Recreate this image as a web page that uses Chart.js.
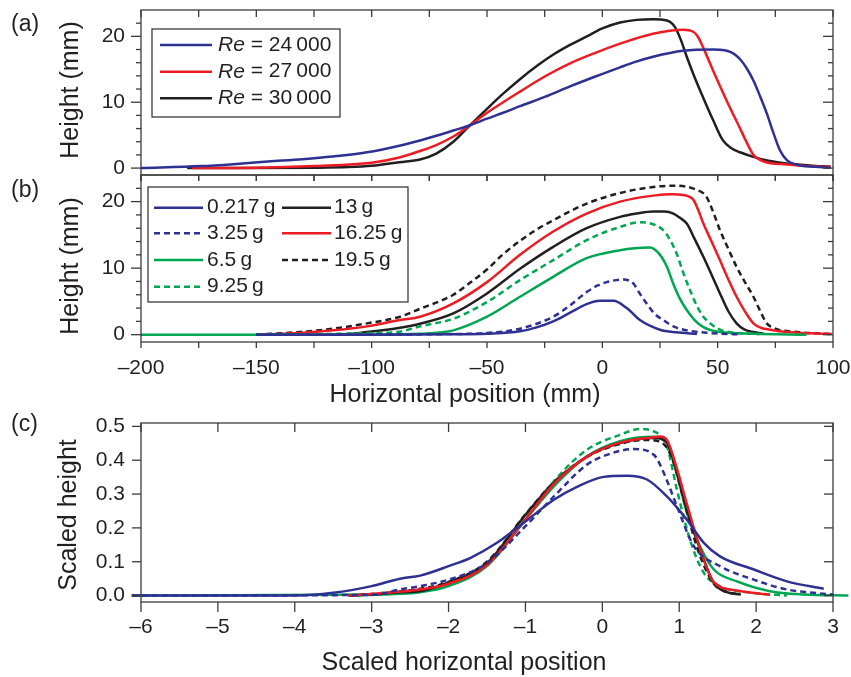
<!DOCTYPE html>
<html lang="en">
<head>
  <meta charset="UTF-8" />
  <title>Height profiles</title>
  <script src="https://cdn.jsdelivr.net/npm/chart.js"></script>
  <style>
    body { margin: 0; background: #fff; }
    .wrap { position: relative; width: 851px; height: 677px; }
    canvas { position: absolute; left: 0; }
  </style>
</head>
<body>
  <div class="wrap">
    <canvas id="chartA" width="851" height="200" style="top:0"></canvas>
    <canvas id="chartB" width="851" height="240" style="top:170px"></canvas>
    <canvas id="chartC" width="851" height="267" style="top:410px"></canvas>
  </div>

  <script>
    // ---- panel (a): Reynolds number series (x in mm, height in mm)
    const reX24 = [-200,-174,-160,-145,-130,-117,-102,-88,-79,-72,-64.6,-57.4,-50,-43,-35.7,-25,-14,-3,7.7,15,22,35,48,53,55.7,58,60,62.5,65.5,68.5,71.3,74,77,80,85,92,99];
    const reY24 = [0,0.3,0.6,1.0,1.35,1.75,2.4,3.4,4.2,4.9,5.7,6.5,7.5,8.4,9.4,10.8,12.4,13.9,15.3,16.2,16.9,17.8,18.0,17.9,17.6,17.1,16.4,15.2,13.3,10.8,8.3,5.5,2.7,1.2,0.45,0.2,0.05];
    const reX27 = [-178,-150,-125,-100,-88,-79,-72,-64.6,-57.4,-50,-43,-35.7,-25,-14,-3,7.7,22,35,39.4,41.5,43.6,48,53.8,60,63,65.5,70,80,90,99];
    const reY27 = [0,0.05,0.3,0.8,1.6,2.6,3.5,4.8,6.5,8.4,10.0,11.6,13.9,15.9,17.5,18.9,20.4,21.0,20.7,19.9,18.4,14.8,10.3,5.8,3.6,2.0,1.0,0.55,0.3,0.15];
    const reX30 = [-180,-150,-125,-110,-100,-88,-79,-72,-64.6,-57.4,-50,-43,-35.7,-28,-21.4,-14,-6.7,0,7.7,14.9,22,28,31.5,34,36.6,40,43.6,48,52.3,56,59.7,65.5,72,80,90,99];
    const reY30 = [0,0,0.05,0.15,0.35,0.9,1.3,2.2,4.0,6.5,9.0,11.3,13.5,15.6,17.2,18.7,20.0,21.2,22.1,22.5,22.6,22.4,21.4,19.5,16.9,13.8,10.8,7.3,4.2,3.0,2.4,1.7,1.1,0.7,0.4,0.2];
    const reLabels = ['24\u2009000', '27\u2009000', '30\u2009000'];

    // ---- panel (b): mass series (x in mm, height in mm)
    const bX0217 = [-150,-100,-65,-50,-35.7,-28.5,-21.3,-14,-6.8,-1,4.8,10.6,16.3,25,32,41];
    const bY0217 = [0,0,0.05,0.15,0.5,1.1,2.0,3.3,4.6,5.1,5.1,4.0,2.2,0.75,0.35,0.12];
    const bX325 = [-150,-100,-65,-50,-35.7,-21.3,-14,-6.8,-2,1.9,6,9.1,13.4,16,19.2,22.5,26.4,31,36.6,45,51,59.7];
    const bY325 = [0,0.02,0.1,0.25,0.9,2.7,4.4,6.4,7.4,7.9,8.2,8.3,7.7,6.3,4.7,3.2,2.2,1.2,0.65,0.3,0.15,0.05];
    const bX65 = [-200,-150,-100,-79,-64.6,-50,-35.7,-21.3,-6.8,7.7,14,20.7,25,28,30.7,33.5,36.6,40,43.8,51,65.5,88.5];
    const bY65 = [0,0,0.02,0.15,0.65,2.7,5.7,8.7,11.5,12.7,13.0,13.1,12.0,10.2,7.7,5.5,3.7,2.2,1.15,0.4,0.15,0];
    const bX925 = [-150,-120,-100,-89,-79,-64.6,-50,-35.7,-21.3,-6.8,7.7,16.5,22.1,26.4,29.3,32.2,35,38,40.9,43.8,47.5,51,58.2,68];
    const bY925 = [0,0.1,0.25,0.4,1.25,2.4,4.9,8.2,11.2,14.2,16.2,16.9,16.6,15.7,14.3,12.2,9.4,6.7,4.4,2.7,1.5,0.75,0.25,0.1];
    const bX13 = [-150,-116.7,-102,-87.7,-79,-64.6,-50,-35.7,-21.3,-6.8,7.7,15,22.1,27,30.8,33.5,36.6,40,43.8,47.5,51,54.5,58.2,61.5,65.5,70];
    const bY13 = [0,0,0.4,1.05,1.65,3.2,6.2,9.9,13.2,16.0,17.7,18.2,18.5,18.5,18.2,17.6,16.7,14.4,11.7,8.9,6.2,3.6,1.7,0.8,0.4,0.15];
    const bX1625 = [-150,-131,-116.7,-102,-87.7,-79,-64.6,-50,-35.7,-21.3,-6.8,7.7,22.1,30,35.1,39.4,41.5,43.8,47.5,51,54.5,58.2,62,65.5,69,72.7,80,90,99.5];
    const bY1625 = [0,0.25,0.65,1.25,2.2,2.7,4.7,7.9,12.0,15.5,18.2,20.0,20.9,21.1,21.0,20.3,18.8,16.7,13.9,11.2,8.4,5.7,3.4,1.7,1.0,0.75,0.4,0.2,0.1];
    const bX195 = [-150,-131,-116.7,-102,-87.7,-79,-64.6,-57.4,-50,-43,-35.7,-28.5,-21.3,-6.8,7.7,22.1,32,40.6,45,48,51,54.5,58.2,62,65.5,68.5,71.3,76,80,90,99.5];
    const bY195 = [0,0.4,0.9,1.7,2.7,3.9,6.0,7.8,9.8,12.1,14.1,15.8,17.2,19.7,21.3,22.2,22.4,21.8,20.8,18.5,15.7,13.0,10.2,7.8,5.7,3.5,1.7,0.8,0.55,0.25,0.1];
    const massLabels = ['0.217\u2009g', '3.25\u2009g', '6.5\u2009g', '9.25\u2009g', '13\u2009g', '16.25\u2009g', '19.5\u2009g'];

    // ---- panel (c): scaled profiles
    const cX0217 = [-6.12,-4,-3.5,-3,-2.63,-2.37,-2,-1.72,-1.37,-1,-0.63,-0.33,0,0.32,0.58,0.84,1.1,1.32,1.53,1.97,2.4,2.88];
    const cY0217 = [0,0,0.008,0.028,0.05,0.059,0.087,0.111,0.156,0.219,0.283,0.321,0.35,0.354,0.343,0.293,0.224,0.156,0.116,0.077,0.042,0.02];
    const cX325 = [-6.12,-3,-2.63,-2.37,-2,-1.5,-1,-0.63,-0.2,0.06,0.41,0.67,0.8,0.97,1.19,1.53,1.97,2.4,3.0];
    const cY325 = [0,0.002,0.018,0.028,0.047,0.096,0.205,0.293,0.387,0.416,0.433,0.416,0.362,0.264,0.146,0.087,0.047,0.018,0.003];
    const cX65 = [-6.12,-3,-2.37,-2,-1.5,-1,-0.63,-0.2,0.23,0.67,0.84,0.97,1.1,1.27,1.45,1.75,2.18,2.62,3.2];
    const cY65 = [0,0.003,0.01,0.028,0.087,0.224,0.323,0.411,0.456,0.469,0.456,0.362,0.244,0.146,0.077,0.042,0.013,0.003,0];
    const cX925 = [-3.2,-2.37,-2,-1.5,-1,-0.63,-0.2,0.23,0.49,0.67,0.84,0.97,1.14,1.32,1.53,1.97,2.4];
    const cY925 = [0,0.013,0.032,0.092,0.229,0.338,0.431,0.475,0.492,0.485,0.441,0.313,0.165,0.067,0.028,0.008,0];
    const cX13 = [-3.3,-3,-2.63,-2.37,-2,-1.5,-1,-0.63,-0.2,0.23,0.67,0.84,0.97,1.1,1.32,1.45,1.62,1.8];
    const cY13 = [0,0.003,0.01,0.013,0.039,0.096,0.239,0.333,0.411,0.451,0.466,0.451,0.362,0.254,0.106,0.037,0.01,0.003];
    const cX1625 = [-3.3,-3,-2.37,-2,-1.5,-1,-0.63,-0.2,0.23,0.67,0.75,0.84,0.97,1.1,1.3,1.45,1.75,2.18];
    const cY1625 = [0,0.005,0.018,0.035,0.09,0.225,0.33,0.41,0.452,0.468,0.47,0.46,0.375,0.27,0.12,0.04,0.015,0.002];
    const cX195 = [-3.3,-3,-2.37,-2,-1.5,-1,-0.63,-0.2,0.23,0.55,0.75,0.9,1.05,1.25,1.45,1.6,1.8];
    const cY195 = [0,0.005,0.02,0.04,0.1,0.24,0.335,0.41,0.448,0.46,0.455,0.41,0.29,0.13,0.035,0.012,0.003];

    // ---- ticks
    const mmTicks = [-200,-175,-150,-125,-100,-75,-50,-25,0,25,50,75,100];
    const mmLabels = [-200,-150,-100,-50,0,50,100];
    const hLabels = [0,10,20];
    const hMinor = [2,4,6,8,12,14,16,18,22];
    const sxLabels = [-6,-5,-4,-3,-2,-1,0,1,2,3];
    const syLabels = [0,0.1,0.2,0.3,0.4,0.5];

    const BLUE = '#2e3192', RED = '#ed1c24', BLACK = '#231f20', GREEN = '#00a651';
    const INK = '#231f20', FRAME = '#3b3b3b';
    const FONT = "'Liberation Sans', Arial, sans-serif";
    const DASH = [6, 4];

    const pts = (xs, ys) => xs.map((x, i) => ({ x, y: ys[i] }));
    const dash = v => (v < 0 ? '\u2013' + Math.abs(v) : String(v));

    function line(label, xs, ys, color, dashed) {
      return {
        label, data: pts(xs, ys), borderColor: color, borderWidth: 2.5,
        borderDash: dashed ? DASH : [], pointRadius: 0, fill: false,
        cubicInterpolationMode: 'monotone'
      };
    }

    // frame + tick marks (len > 0 points inward, len < 0 outward)
    function axisMarks(marks) {
      return {
        id: 'axisMarks',
        afterDraw(chart) {
          const { ctx, chartArea: a, scales } = chart;
          ctx.save();
          ctx.strokeStyle = FRAME;
          ctx.lineWidth = 1.3;
          ctx.strokeRect(a.left, a.top, a.right - a.left, a.bottom - a.top);
          marks.forEach(m => {
            const horiz = m.side === 'top' || m.side === 'bottom';
            const scale = horiz ? scales.x : scales.y;
            m.values.forEach(v => {
              const p = scale.getPixelForValue(v);
              ctx.beginPath();
              if (m.side === 'left') { ctx.moveTo(a.left, p); ctx.lineTo(a.left + m.len, p); }
              else if (m.side === 'right') { ctx.moveTo(a.right, p); ctx.lineTo(a.right - m.len, p); }
              else if (m.side === 'top') { ctx.moveTo(p, a.top); ctx.lineTo(p, a.top + m.len); }
              else { ctx.moveTo(p, a.bottom); ctx.lineTo(p, a.bottom - m.len); }
              ctx.stroke();
            });
          });
          ctx.restore();
        }
      };
    }

    // panel tag, axis titles and boxed legend
    function annotations(cfg) {
      return {
        id: 'annotations',
        afterDatasetsDraw(chart) {
          const { ctx } = chart;
          ctx.save();
          ctx.fillStyle = INK;
          ctx.textBaseline = 'middle';
          cfg.texts.forEach(t => {
            ctx.save();
            ctx.font = t.size + 'px ' + FONT;
            ctx.textAlign = t.align || 'center';
            ctx.translate(t.x, t.y);
            if (t.rot) ctx.rotate(-Math.PI / 2);
            ctx.fillText(t.text, 0, 0);
            ctx.restore();
          });
          if (cfg.box) {
            const [x0, y0, x1, y1] = cfg.box;
            ctx.fillStyle = '#fff';
            ctx.fillRect(x0, y0, x1 - x0, y1 - y0);
            ctx.strokeStyle = FRAME;
            ctx.lineWidth = 1.3;
            ctx.strokeRect(x0, y0, x1 - x0, y1 - y0);
            ctx.textAlign = 'left';
            chart.data.datasets.forEach((ds, i) => {
              const c = cfg.cols[Math.floor(i / cfg.perCol)];
              const y = cfg.rows[i % cfg.perCol];
              ctx.strokeStyle = ds.borderColor;
              ctx.lineWidth = ds.borderWidth;
              ctx.setLineDash(ds.borderDash);
              ctx.beginPath();
              ctx.moveTo(c.line[0], y);
              ctx.lineTo(c.line[1], y);
              ctx.stroke();
              ctx.setLineDash([]);
              ctx.fillStyle = INK;
              let x = c.text, txt = ds.label;
              if (txt.startsWith('Re')) {
                ctx.font = 'italic 21px ' + FONT;
                ctx.fillText('Re', x, y);
                x += ctx.measureText('Re').width;
                txt = txt.slice(2);
              }
              ctx.font = '21px ' + FONT;
              ctx.fillText(txt, x, y);
            });
          }
          ctx.restore();
        }
      };
    }

    // fixed axis boxes: no extra room reserved for half-labels at the ends
    function fixBox(s, size) {
      if (s.isHorizontal()) s.height = size; else s.width = size;
      s.paddingTop = 0; s.paddingBottom = 0; s.paddingLeft = 0; s.paddingRight = 0;
    }

    function yScale(min, max, labels, fmt) {
      return {
        type: 'linear', position: 'left', min, max,
        afterFit: s => fixBox(s, 141),
        afterBuildTicks: s => { s.ticks = labels.map(v => ({ value: v })); },
        grid: { display: false, drawTicks: false },
        border: { display: false },
        ticks: { padding: 16, color: INK, font: { family: FONT, size: 21 }, callback: fmt }
      };
    }

    function xScale(min, max, labels, height, showLabels, pad) {
      return {
        type: 'linear', position: 'bottom', min, max,
        afterFit: s => fixBox(s, height),
        afterBuildTicks: s => { s.ticks = labels.map(v => ({ value: v })); },
        grid: { display: false, drawTicks: false },
        border: { display: false },
        ticks: { display: showLabels, padding: pad, autoSkip: false, maxRotation: 0,
                 color: INK, font: { family: FONT, size: 21 }, callback: v => dash(v) }
      };
    }

    const common = { responsive: false, animation: false, events: [] };
    const noLegend = { legend: { display: false }, tooltip: { enabled: false } };

    // ---- (a)
    new Chart(document.getElementById('chartA'), {
      type: 'line',
      data: { datasets: [
        line('Re = ' + reLabels[0], reX24, reY24, BLUE),
        line('Re = ' + reLabels[1], reX27, reY27, RED),
        line('Re = ' + reLabels[2], reX30, reY30, BLACK)
      ] },
      options: {
        ...common,
        layout: { padding: { top: 10, right: 18, left: 0, bottom: 0 } },
        plugins: noLegend,
        scales: {
          x: xScale(-200, 100, mmLabels, 25, false, 0),
          y: yScale(-1.05, 24, hLabels, v => String(v))
        }
      },
      plugins: [
        axisMarks([
          { side: 'left', values: hLabels, len: -10 }, { side: 'left', values: hMinor, len: -5 },
          { side: 'right', values: hLabels, len: 10 }, { side: 'right', values: hMinor, len: 5 },
          { side: 'top', values: mmTicks, len: 7 }, { side: 'bottom', values: mmTicks, len: -6 }
        ]),
        annotations({
          texts: [
            { text: '(a)', x: 11, y: 25, size: 23, align: 'left' },
            { text: 'Height (mm)', x: 71, y: 90, size: 25, rot: true }
          ],
          box: [152, 29, 340, 117], perCol: 3,
          rows: [45, 71.7, 98.3], cols: [{ line: [160, 212], text: 218 }]
        })
      ]
    });

    // ---- (b)
    new Chart(document.getElementById('chartB'), {
      type: 'line',
      data: { datasets: [
        line(massLabels[0], bX0217, bY0217, BLUE),
        line(massLabels[1], bX325, bY325, BLUE, true),
        line(massLabels[2], bX65, bY65, GREEN),
        line(massLabels[3], bX925, bY925, GREEN, true),
        line(massLabels[4], bX13, bY13, BLACK),
        line(massLabels[5], bX1625, bY1625, RED),
        line(massLabels[6], bX195, bY195, BLACK, true)
      ] },
      options: {
        ...common,
        layout: { padding: { top: 5, right: 18, left: 0, bottom: 0 } },
        plugins: noLegend,
        scales: {
          x: xScale(-200, 100, mmLabels, 68, true, 14),
          y: yScale(-1.1, 24, hLabels, v => String(v))
        }
      },
      plugins: [
        axisMarks([
          { side: 'left', values: hLabels, len: -10 }, { side: 'left', values: hMinor, len: -5 },
          { side: 'right', values: hLabels, len: 10 }, { side: 'right', values: hMinor, len: 5 },
          { side: 'top', values: mmTicks, len: 6 }, { side: 'bottom', values: mmTicks, len: -6 }
        ]),
        annotations({
          texts: [
            { text: '(b)', x: 11, y: 21, size: 23, align: 'left' },
            { text: 'Height (mm)', x: 71, y: 96, size: 25, rot: true },
            { text: 'Horizontal position (mm)', x: 465, y: 225, size: 25 }
          ],
          box: [148, 17, 408, 132], perCol: 4,
          rows: [37.7, 63.3, 90, 116.7],
          cols: [{ line: [154, 203], text: 207 }, { line: [282, 331], text: 334 }]
        })
      ]
    });

    // ---- (c)
    const cSets = [
      line(massLabels[0], cX0217, cY0217, BLUE),
      line(massLabels[1], cX325, cY325, BLUE, true),
      line(massLabels[5], cX1625, cY1625, RED),
      line(massLabels[6], cX195, cY195, BLACK, true),
      line(massLabels[4], cX13, cY13, BLACK),
      line(massLabels[2], cX65, cY65, GREEN),
      line(massLabels[3], cX925, cY925, GREEN, true)
    ];
    cSets.forEach(ds => { ds.clip = false; });

    new Chart(document.getElementById('chartC'), {
      type: 'line',
      data: { datasets: cSets },
      options: {
        ...common,
        layout: { padding: { top: 13, right: 18, left: 0, bottom: 0 } },
        plugins: noLegend,
        scales: {
          x: xScale(-6, 3, sxLabels, 75, true, 13),
          y: yScale(-0.019, 0.51, syLabels, v => v.toFixed(1))
        }
      },
      plugins: [
        axisMarks([
          { side: 'left', values: syLabels, len: -9 }, { side: 'right', values: syLabels, len: 9 },
          { side: 'top', values: sxLabels, len: 9 }, { side: 'bottom', values: sxLabels, len: -10 }
        ]),
        annotations({
          texts: [
            { text: '(c)', x: 11, y: 15, size: 23, align: 'left' },
            { text: 'Scaled height', x: 69, y: 105, size: 25, rot: true },
            { text: 'Scaled horizontal position', x: 464, y: 253, size: 25 }
          ]
        })
      ]
    });
  </script>
</body>
</html>
